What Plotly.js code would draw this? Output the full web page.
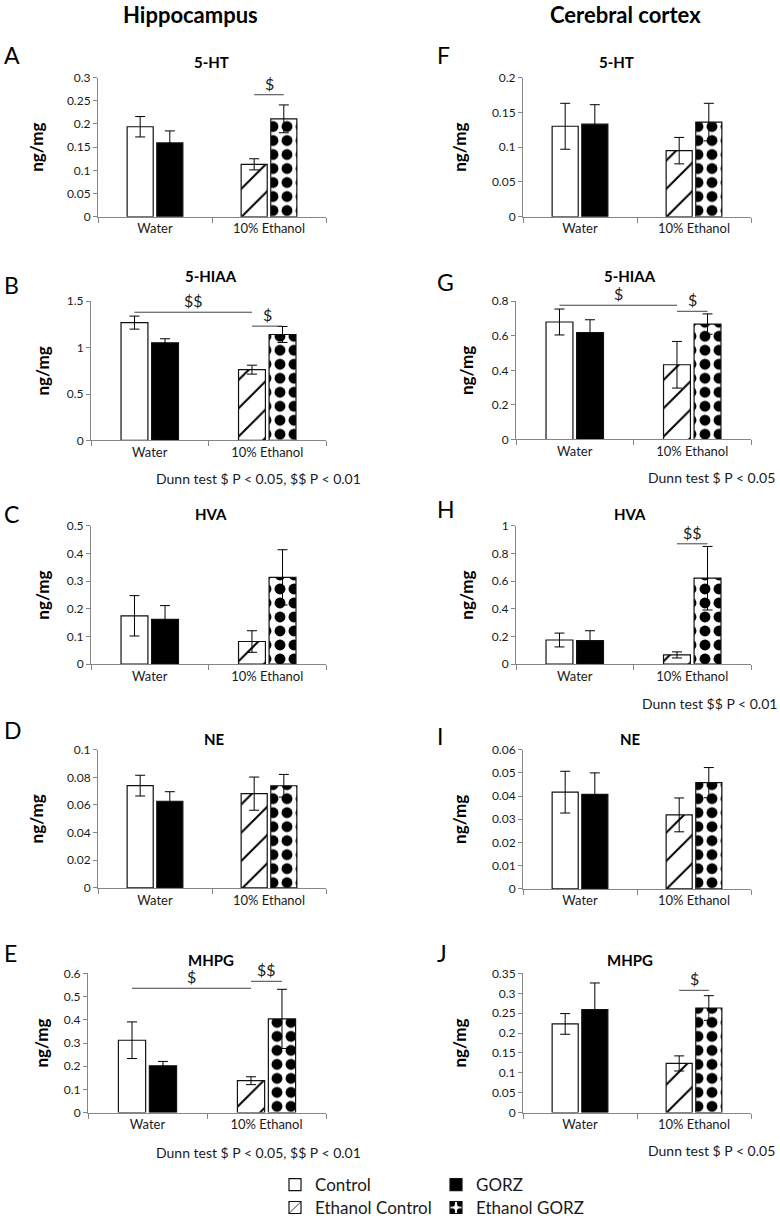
<!DOCTYPE html>
<html><head><meta charset="utf-8">
<script src="https://cdn.plot.ly/plotly-3.0.1.min.js"></script>
<style>html,body{margin:0;padding:0;background:#fff}#chart{width:780px;height:1226px}</style>
</head><body><div id="chart"></div>
<script>
// ---------------- DATA ----------------
const groups = ['Water', '10% Ethanol'];
const seriesNames = ['Control', 'GORZ', 'Ethanol Control', 'Ethanol GORZ'];
const regions = ['Hippocampus', 'Cerebral cortex'];
const panelLetters = ['A', 'B', 'C', 'D', 'E', 'F', 'G', 'H', 'I', 'J'];
const analytes = ['5-HT', '5-HIAA', 'HVA', 'NE', 'MHPG', '5-HT', '5-HIAA', 'HVA', 'NE', 'MHPG'];
const yLabel = 'ng/mg';

const controlMean = [0.194, 1.27, 0.175, 0.074, 0.312, 0.130, 0.680, 0.175, 0.0417, 0.223];
const controlErr  = [0.022, 0.07, 0.073, 0.0075, 0.079, 0.033, 0.075, 0.05, 0.009, 0.026];
const gorzMean    = [0.159, 1.053, 0.162, 0.0627, 0.202, 0.133, 0.618, 0.170, 0.0407, 0.259];
const gorzErr     = [0.026, 0.043, 0.05, 0.0069, 0.0186, 0.028, 0.075, 0.072, 0.0093, 0.067];
const ethCtrlMean = [0.113, 0.763, 0.082, 0.0682, 0.1375, 0.095, 0.4325, 0.067, 0.0319, 0.1236];
const ethCtrlErr  = [0.012, 0.048, 0.039, 0.012, 0.017, 0.019, 0.135, 0.022, 0.0073, 0.019];
const ethGorzMean = [0.211, 1.142, 0.314, 0.0739, 0.404, 0.136, 0.668, 0.622, 0.0458, 0.263];
const ethGorzErr  = [0.03, 0.086, 0.1, 0.0082, 0.1275, 0.027, 0.059, 0.23, 0.0065, 0.031];

const yMax  = [0.3, 1.5, 0.5, 0.1, 0.6, 0.2, 0.8, 1, 0.06, 0.35];
const yStep = [0.05, 0.5, 0.1, 0.02, 0.1, 0.05, 0.2, 0.2, 0.01, 0.05];

// significance brackets (panel index, label, from series, to series, bracket level)
const sigPanel = [0, 1, 1, 4, 4, 6, 6, 7, 9];
const sigLabel = ['$', '$$', '$', '$', '$$', '$', '$', '$$', '$'];
const sigFrom  = [2, 0, 2, 0, 2, 0, 2, 2, 2];
const sigTo    = [3, 2, 3, 2, 3, 2, 3, 3, 3];
const sigLevel = [0.263, 1.382, 1.232, 0.536, 0.566, 0.777, 0.742, 0.871, 0.3075];

const notePanel = [1, 4, 6, 7, 9];
const noteText  = ['Dunn test $ P < 0.05, $$ P < 0.01', 'Dunn test $ P < 0.05, $$ P < 0.01',
                   'Dunn test $ P < 0.05', 'Dunn test $$ P < 0.01', 'Dunn test $ P < 0.05'];

// ---------------- LAYOUT GEOMETRY ----------------
const W = 780, H = 1226;
const FONT = 'Lato, "Open Sans", sans-serif';
const plotLeft   = [98, 91, 91, 98, 88, 523, 516, 516, 523, 523];
const plotRight  = [326, 326, 326, 326, 326, 751, 751, 751, 751, 751];
const plotTop    = [78, 303, 529, 754, 979, 78, 303, 529, 754, 979];
const plotBottom = [218, 443, 668, 893, 1119, 218, 442, 668, 894, 1119];
const titleX = [212, 211, 211, 214, 211, 616, 630, 630, 630, 630];
const titleY = [62, 278, 517, 743, 966, 62, 278, 517, 743, 966];
const letterX = [2, 2, 2, 2, 2, 435, 435, 435, 435, 435];
const letterY = [55, 287, 517, 734, 958, 55, 284, 512, 740, 958];
const titleStandoff = [18, 12, 12, 18, 10, 20, 13, 13, 20, 20];
const fx = p => p / W, fy = p => 1 - p / H;

const means = [controlMean, gorzMean, ethCtrlMean, ethGorzMean];
const errs  = [controlErr, gorzErr, ethCtrlErr, ethGorzErr];
const seriesGroup = [0, 0, 1, 1];
const seriesSlot  = ['a', 'b', 'a', 'b'];
const BARGAP = 0.48;
const slotOffset = s => (s % 2 === 0 ? -1 : 1) * (1 - BARGAP) / 4;

function markerFor(s) {
  const line = {color: '#111', width: 1.2};
  if (s === 0) return {color: 'white', line};
  if (s === 1) return {color: 'black', line};
  if (s === 2) return {color: 'white', line,
    pattern: {shape: '/', fgcolor: 'black', bgcolor: 'white', size: 20, solidity: 0.1, fillmode: 'replace'}};
  return {color: 'white', line,
    pattern: {shape: '.', fgcolor: 'black', bgcolor: 'white', size: 14, solidity: 0.48, fillmode: 'replace'}};
}

const data = [];
const legendCommon = {xanchor: 'left', yanchor: 'bottom', orientation: 'h',
  entrywidth: 116, entrywidthmode: 'pixels', itemwidth: 30,
  font: {size: 17, family: FONT, color: '#1a1a1a'}, bgcolor: 'rgba(0,0,0,0)', tracegroupgap: 0};
const layout = {
  width: W, height: H,
  margin: {l: 0, r: 0, t: 0, b: 0},
  paper_bgcolor: 'white', plot_bgcolor: 'white',
  font: {family: FONT, color: '#1a1a1a', size: 11},
  barmode: 'group', bargap: BARGAP, bargroupgap: 0.12,
  showlegend: true,
  legend: Object.assign({x: fx(275), y: fy(1210)}, legendCommon),
  legend2: Object.assign({x: fx(275), y: fy(1233)}, legendCommon),
  annotations: [], shapes: []
};

for (let i = 0; i < 10; i++) {
  const n = i + 1;
  const xa = 'x' + (n === 1 ? '' : n), ya = 'y' + (n === 1 ? '' : n);
  for (let s = 0; s < 4; s++) {
    data.push({
      type: 'bar', name: seriesNames[s],
      x: [groups[seriesGroup[s]]], y: [means[s][i]],
      offsetgroup: seriesSlot[s],
      xaxis: xa, yaxis: ya,
      marker: markerFor(s),
      error_y: {type: 'data', array: [errs[s][i]], visible: true, color: 'black', thickness: 1, width: 5},
      showlegend: i === 0, legendgroup: seriesNames[s],
      legend: s < 2 ? 'legend' : 'legend2',
      hoverinfo: 'y+name'
    });
  }
  layout['xaxis' + (n === 1 ? '' : n)] = {
    domain: [fx(plotLeft[i]), fx(plotRight[i])], anchor: ya,
    type: 'category', categoryorder: 'array', categoryarray: groups,
    range: [-0.5, 1.5], fixedrange: true,
    showline: true, linecolor: '#868686', linewidth: 1,
    ticks: 'outside', tickson: 'boundaries', ticklen: 5, tickcolor: '#868686',
    tickfont: {size: 13, family: FONT, color: '#1a1a1a'},
    showgrid: false, zeroline: false
  };
  layout['yaxis' + (n === 1 ? '' : n)] = {
    domain: [fy(plotBottom[i]), fy(plotTop[i])], anchor: xa,
    range: [0, yMax[i]], tick0: 0, dtick: yStep[i], fixedrange: true,
    showline: true, linecolor: '#868686', linewidth: 1,
    ticks: 'outside', ticklen: 4, tickcolor: '#868686',
    tickfont: {size: 12, family: FONT, color: '#1a1a1a'},
    showgrid: false, zeroline: false,
    title: {text: yLabel, font: {size: 17, family: FONT, color: '#000', weight: 'bold'}, standoff: titleStandoff[i]}
  };
  // panel title
  layout.annotations.push({xref: 'paper', yref: 'paper', x: fx(titleX[i]), y: fy(titleY[i]),
    xanchor: 'center', yanchor: 'middle', showarrow: false,
    text: '<b>' + analytes[i] + '</b>', font: {size: 15, family: FONT, color: '#000'}});
  // panel letter
  layout.annotations.push({xref: 'paper', yref: 'paper', x: fx(letterX[i]), y: fy(letterY[i]),
    xanchor: 'left', yanchor: 'middle', showarrow: false,
    text: panelLetters[i], font: {size: 23, family: FONT, color: '#000'}});
}

// column headers
layout.annotations.push({xref: 'paper', yref: 'paper', x: fx(190), y: fy(15), xanchor: 'center', yanchor: 'middle',
  showarrow: false, text: '<b>' + regions[0] + '</b>', font: {size: 22, family: FONT, color: '#000'}});
layout.annotations.push({xref: 'paper', yref: 'paper', x: fx(625), y: fy(15), xanchor: 'center', yanchor: 'middle',
  showarrow: false, text: '<b>' + regions[1] + '</b>', font: {size: 22, family: FONT, color: '#000'}});

const esc = t => t.replace(/\$/g, '&#36;').replace(/</g, '&lt;');

// significance brackets
for (let k = 0; k < sigPanel.length; k++) {
  const n = sigPanel[k] + 1;
  const xa = 'x' + (n === 1 ? '' : n), ya = 'y' + (n === 1 ? '' : n);
  const x0 = seriesGroup[sigFrom[k]] + slotOffset(sigFrom[k]);
  const x1 = seriesGroup[sigTo[k]] + slotOffset(sigTo[k]);
  layout.shapes.push({type: 'line', xref: xa, yref: ya, x0: x0, x1: x1, y0: sigLevel[k], y1: sigLevel[k],
    line: {color: '#404040', width: 1}});
  layout.annotations.push({xref: xa, yref: ya, x: (x0 + x1) / 2, y: sigLevel[k], xanchor: 'center', yanchor: 'bottom',
    yshift: 0, showarrow: false, text: esc(sigLabel[k]), font: {size: 16, family: FONT, color: '#1a1a1a'}});
}

// Dunn test notes
const noteX = {1: 258, 4: 258, 6: 777, 7: 779, 9: 777};
const noteY = {1: 481, 4: 1159, 6: 480, 7: 708, 9: 1157};
for (let k = 0; k < notePanel.length; k++) {
  const p = notePanel[k];
  layout.annotations.push({xref: 'paper', yref: 'paper', x: fx(noteX[p]), y: fy(noteY[p]),
    xanchor: p < 5 ? 'center' : 'right', yanchor: 'middle', showarrow: false,
    text: esc(noteText[k]), font: {size: 14, family: FONT, color: '#1a1a1a'}});
}

Plotly.newPlot('chart', data, layout, {staticPlot: true, displayModeBar: false});
</script>
</body></html>
